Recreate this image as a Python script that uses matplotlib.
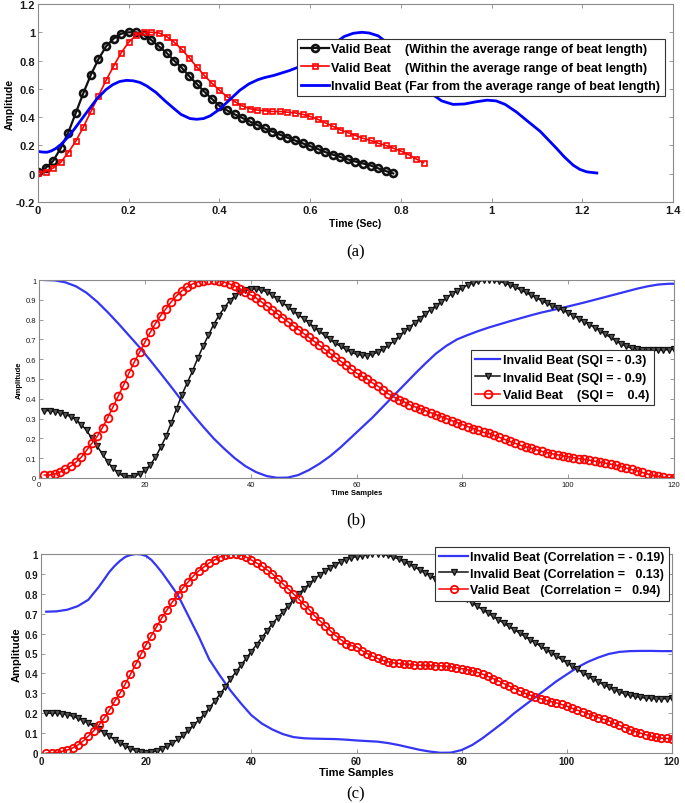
import numpy as np
import matplotlib
matplotlib.use('Agg')
import matplotlib.pyplot as plt

plt.rcParams['font.family'] = ['Liberation Sans', 'DejaVu Sans']

# ---------------- Panel (a) data ----------------
a_rate = 60.0  # samples per second
a_valid1 = [0.01, 0.04, 0.09, 0.18, 0.29, 0.43, 0.57, 0.70, 0.81, 0.90,
            0.955, 0.99, 1.0, 1.0, 0.98, 0.945, 0.90, 0.855, 0.80, 0.75,
            0.69, 0.635, 0.58, 0.53, 0.48, 0.448, 0.42, 0.395, 0.37, 0.345,
            0.32, 0.298, 0.276, 0.255, 0.235, 0.215, 0.195, 0.175, 0.153, 0.135,
            0.118, 0.101, 0.086, 0.072, 0.058, 0.038, 0.019, 0.002]
a_valid2 = [0.005, 0.015, 0.04, 0.08, 0.15, 0.23, 0.33, 0.44, 0.55, 0.66,
            0.76, 0.855, 0.93, 0.98, 1.0, 1.0, 0.995, 0.97, 0.93, 0.88,
            0.82, 0.755, 0.695, 0.64, 0.59, 0.545, 0.51, 0.48, 0.46, 0.45,
            0.445, 0.44, 0.44, 0.435, 0.43, 0.42, 0.405, 0.385, 0.36, 0.335,
            0.31, 0.29, 0.27, 0.25, 0.235, 0.215, 0.20, 0.18, 0.16, 0.135,
            0.105, 0.078]
a_invalid_t = [0.0, 0.01, 0.02, 0.03, 0.04, 0.05, 0.065, 0.08, 0.095, 0.11,
               0.13, 0.15, 0.165, 0.18, 0.195, 0.21, 0.225, 0.24, 0.26, 0.28,
               0.30, 0.315, 0.335, 0.35, 0.365, 0.38, 0.40, 0.425, 0.445, 0.465,
               0.485, 0.50, 0.52, 0.535, 0.555, 0.575, 0.595, 0.615, 0.635, 0.655,
               0.675, 0.695, 0.714, 0.73, 0.75, 0.77, 0.79, 0.81, 0.83, 0.85,
               0.87, 0.89, 0.915, 0.94, 0.965, 0.99, 1.01, 1.03, 1.055, 1.08,
               1.107, 1.125, 1.143, 1.16, 1.18, 1.195, 1.21, 1.232]
a_invalid = [0.158, 0.153, 0.152, 0.162, 0.18, 0.205, 0.255, 0.315, 0.38, 0.445,
             0.53, 0.595, 0.63, 0.652, 0.66, 0.657, 0.645, 0.62, 0.575, 0.515,
             0.46, 0.42, 0.39, 0.385, 0.39, 0.41, 0.455, 0.53, 0.59, 0.635,
             0.665, 0.68, 0.695, 0.71, 0.73, 0.755, 0.785, 0.82, 0.87, 0.925,
             0.97, 0.993, 1.0, 0.995, 0.975, 0.925, 0.86, 0.79, 0.71, 0.63,
             0.56, 0.515, 0.49, 0.493, 0.508, 0.52, 0.515, 0.49, 0.436, 0.37,
             0.30, 0.24, 0.18, 0.12, 0.06, 0.03, 0.013, 0.005]
a_labels = ['Valid Beat    (Within the average range of beat length)',
            'Valid Beat    (Within the average range of beat length)',
            'Invalid Beat (Far from the average range of beat length)']
a_xticks = [0, 0.2, 0.4, 0.6, 0.8, 1.0, 1.2, 1.4]
a_xticklabels = ['0', '0.2', '0.4', '0.6', '0.8', '1', '1.2', '1.4']
a_yticks = [-0.2, 0, 0.2, 0.4, 0.6, 0.8, 1.0, 1.2]
a_yticklabels = ['-0.2', '0', '0.2', '0.4', '0.6', '0.8', '1', '1.2']

# ---------------- Panel (b) data ----------------
b_valid = [0.015, 0.015, 0.02, 0.03, 0.045, 0.06, 0.08, 0.105, 0.14, 0.175,
           0.21, 0.255, 0.305, 0.36, 0.415, 0.47, 0.53, 0.585, 0.635, 0.685,
           0.735, 0.78, 0.82, 0.855, 0.89, 0.92, 0.945, 0.965, 0.98, 0.99,
           0.997, 1.0, 1.0, 0.997, 0.99, 0.98, 0.97, 0.955, 0.94, 0.925,
           0.91, 0.89, 0.87, 0.85, 0.83, 0.81, 0.79, 0.77, 0.75, 0.73,
           0.71, 0.69, 0.67, 0.65, 0.63, 0.61, 0.59, 0.57, 0.55, 0.53,
           0.515, 0.50, 0.48, 0.465, 0.445, 0.425, 0.41, 0.395, 0.385, 0.37,
           0.36, 0.35, 0.34, 0.33, 0.32, 0.31, 0.30, 0.29, 0.28, 0.27,
           0.26, 0.25, 0.24, 0.23, 0.225, 0.215, 0.205, 0.195, 0.185, 0.175,
           0.165, 0.157, 0.15, 0.142, 0.135, 0.128, 0.122, 0.117, 0.112, 0.107,
           0.102, 0.098, 0.094, 0.09, 0.085, 0.08, 0.075, 0.07, 0.065, 0.058,
           0.05, 0.043, 0.036, 0.028, 0.02, 0.013, 0.008, 0.004, 0.002, 0.0]
b_invalid2 = [0.34, 0.34, 0.335, 0.33, 0.32, 0.31, 0.295, 0.27, 0.24, 0.20,
              0.16, 0.12, 0.08, 0.05, 0.025, 0.008, 0.0, 0.008, 0.02, 0.04,
              0.065, 0.105, 0.155, 0.21, 0.28, 0.35, 0.42, 0.48, 0.54, 0.605,
              0.665, 0.72, 0.775, 0.82, 0.86, 0.895, 0.92, 0.94, 0.95, 0.955,
              0.955, 0.95, 0.94, 0.925, 0.905, 0.885, 0.865, 0.845, 0.825, 0.805,
              0.785, 0.76, 0.74, 0.72, 0.70, 0.68, 0.665, 0.65, 0.635, 0.625,
              0.62, 0.618, 0.625, 0.635, 0.65, 0.67, 0.69, 0.715, 0.74, 0.76,
              0.785, 0.805, 0.83, 0.85, 0.87, 0.89, 0.91, 0.93, 0.945, 0.96,
              0.975, 0.985, 0.993, 0.998, 1.0, 0.998, 0.993, 0.985, 0.975, 0.963,
              0.95, 0.937, 0.923, 0.91, 0.895, 0.882, 0.87, 0.858, 0.847, 0.835,
              0.82, 0.805, 0.79, 0.775, 0.76, 0.743, 0.726, 0.71, 0.693, 0.677,
              0.665, 0.655, 0.65, 0.647, 0.645, 0.645, 0.645, 0.647, 0.648, 0.65]
b_invalid1_n = [1, 3, 5, 7, 9, 11, 13, 15, 17, 19, 21, 23, 25, 27, 29, 31, 33,
                35, 37, 39, 41, 43, 45, 47, 49, 51, 53, 55, 57, 59, 61, 63, 65,
                67, 69, 71, 73, 75, 77, 79, 81, 83, 85, 87, 89, 91, 93, 95, 97,
                99, 101, 103, 105, 107, 109, 111, 113, 115, 117, 119, 120]
b_invalid1 = [1.0, 0.998, 0.988, 0.968, 0.935, 0.89, 0.837, 0.78, 0.72, 0.66,
              0.595, 0.528, 0.46, 0.39, 0.323, 0.26, 0.20, 0.148, 0.10, 0.06,
              0.03, 0.01, 0.001, 0.002, 0.015, 0.04, 0.072, 0.11, 0.155, 0.205,
              0.255, 0.305, 0.36, 0.415, 0.47, 0.525, 0.578, 0.628, 0.668, 0.70,
              0.722, 0.742, 0.76, 0.776, 0.792, 0.807, 0.822, 0.836, 0.848, 0.86,
              0.873, 0.886, 0.90, 0.914, 0.928, 0.942, 0.956, 0.968, 0.977, 0.981,
              0.981]
b_labels = ['Invalid Beat (SQI = - 0.3)', 'Invalid Beat (SQI = - 0.9)',
            'Valid Beat    (SQI =    0.4)']

# ---------------- Panel (c) data ----------------
c_valid = [0.0, 0.0, 0.002, 0.008, 0.015, 0.025, 0.04, 0.06, 0.085, 0.11,
           0.14, 0.175, 0.215, 0.26, 0.30, 0.345, 0.395, 0.445, 0.495, 0.545,
           0.59, 0.635, 0.68, 0.72, 0.76, 0.795, 0.83, 0.86, 0.89, 0.915,
           0.935, 0.955, 0.97, 0.985, 0.995, 1.0, 1.0, 0.995, 0.985, 0.97,
           0.955, 0.94, 0.92, 0.90, 0.875, 0.85, 0.825, 0.80, 0.775, 0.745,
           0.72, 0.69, 0.665, 0.64, 0.615, 0.59, 0.57, 0.55, 0.54, 0.534,
           0.515, 0.50, 0.487, 0.475, 0.465, 0.458, 0.453, 0.45, 0.447, 0.445,
           0.443, 0.441, 0.44, 0.44, 0.439, 0.438, 0.436, 0.433, 0.429, 0.424,
           0.419, 0.413, 0.405, 0.396, 0.385, 0.374, 0.362, 0.349, 0.337, 0.324,
           0.312, 0.30, 0.291, 0.282, 0.273, 0.265, 0.258, 0.252, 0.244, 0.235,
           0.225, 0.215, 0.207, 0.198, 0.188, 0.178, 0.17, 0.161, 0.15, 0.139,
           0.128, 0.117, 0.108, 0.10, 0.092, 0.084, 0.079, 0.074, 0.073, 0.072]
c_invalid2 = [0.20, 0.20, 0.20, 0.197, 0.193, 0.185, 0.175, 0.163, 0.15, 0.135,
              0.12, 0.103, 0.085, 0.067, 0.05, 0.035, 0.022, 0.012, 0.005, 0.002,
              0.003, 0.01, 0.02, 0.033, 0.05, 0.068, 0.09, 0.115, 0.14, 0.165,
              0.195, 0.225, 0.26, 0.295, 0.33, 0.37, 0.405, 0.44, 0.475, 0.51,
              0.545, 0.58, 0.615, 0.65, 0.68, 0.71, 0.74, 0.77, 0.80, 0.825,
              0.85, 0.875, 0.895, 0.915, 0.93, 0.945, 0.96, 0.972, 0.98, 0.987,
              0.992, 0.996, 0.999, 1.0, 0.998, 0.993, 0.985, 0.975, 0.962, 0.948,
              0.935, 0.92, 0.905, 0.89, 0.875, 0.86, 0.843, 0.825, 0.808, 0.79,
              0.772, 0.755, 0.737, 0.72, 0.703, 0.686, 0.67, 0.653, 0.636, 0.62,
              0.603, 0.586, 0.57, 0.553, 0.537, 0.52, 0.503, 0.487, 0.47, 0.454,
              0.437, 0.42, 0.404, 0.388, 0.372, 0.357, 0.343, 0.33, 0.318, 0.307,
              0.297, 0.29, 0.284, 0.279, 0.276, 0.274, 0.273, 0.273, 0.273, 0.274]
c_invalid1_n = [1, 3, 5, 7, 9, 11, 12, 13, 14, 15, 16, 17, 18, 19, 20, 21, 22,
                23, 24, 26, 28, 30, 32, 34, 36, 38, 40, 42, 44, 46, 48, 50, 52,
                54, 56, 58, 60, 62, 64, 66, 68, 70, 72, 74, 76, 78, 80, 82, 84,
                86, 88, 90, 92, 94, 96, 98, 100, 102, 104, 106, 108, 110, 112,
                114, 116, 118, 120]
c_invalid1 = [0.71, 0.712, 0.72, 0.738, 0.77, 0.835, 0.872, 0.91, 0.94, 0.965,
              0.985, 0.995, 1.0, 0.998, 0.99, 0.97, 0.94, 0.907, 0.87, 0.795,
              0.69, 0.585, 0.47, 0.39, 0.315, 0.25, 0.19, 0.148, 0.118, 0.095,
              0.08, 0.074, 0.072, 0.071, 0.07, 0.067, 0.063, 0.06, 0.057, 0.05,
              0.04, 0.028, 0.016, 0.007, 0.001, 0.002, 0.015, 0.04, 0.075, 0.115,
              0.155, 0.20, 0.24, 0.28, 0.32, 0.36, 0.395, 0.43, 0.458, 0.48,
              0.498, 0.508, 0.512, 0.513, 0.513, 0.512, 0.512]
c_labels = ['Invalid Beat (Correlation = - 0.19)',
            'Invalid Beat (Correlation =   0.13)',
            'Valid Beat   (Correlation =   0.94)']

bc_xticks = [0, 20, 40, 60, 80, 100, 120]
bc_yticks = [0, 0.1, 0.2, 0.3, 0.4, 0.5, 0.6, 0.7, 0.8, 0.9, 1.0]
bc_yticklabels = ['0', '0.1', '0.2', '0.3', '0.4', '0.5', '0.6', '0.7', '0.8', '0.9', '1']

W, H = 685, 804
fig = plt.figure(figsize=(W / 100, H / 100), dpi=100)


def px_axes(l, t, r, b):
    return fig.add_axes([l / W, 1 - b / H, (r - l) / W, (b - t) / H])


def style(ax, fs, bold):
    for s in ax.spines.values():
        s.set_color('#8a8a8a')
        s.set_linewidth(0.8)
    ax.tick_params(direction='in', top=True, right=True, length=3, width=0.6,
                   color='#8a8a8a', labelsize=fs, pad=2, labelcolor='#1a1a1a')
    for lab in ax.get_xticklabels() + ax.get_yticklabels():
        lab.set_fontweight('bold' if bold else 'normal')


def legend(ax, handles, labels, x, y, fs, hl, ls):
    lg = ax.legend(handles, labels, loc='upper left', bbox_to_anchor=(x / W, 1 - y / H),
                   bbox_transform=fig.transFigure, borderaxespad=0, fancybox=False,
                   framealpha=1, edgecolor='#333333', prop={'weight': 'bold', 'size': fs},
                   handlelength=hl, handletextpad=0.2, labelspacing=ls, borderpad=0.35)
    lg.get_frame().set_linewidth(0.8)
    return lg


# ---------------- (a) ----------------
ax = px_axes(38, 5, 673, 203)
t1 = np.arange(len(a_valid1)) / a_rate
t2 = np.arange(len(a_valid2)) / a_rate
h1, = ax.plot(t1, a_valid1, '-o', color='#111111', lw=1.6, ms=5.0, mfc='none', mew=1.9)
h2, = ax.plot(t2, a_valid2, '-s', color='#ff0000', lw=1.2, ms=3.6, mfc='none', mew=1.2)
h3, = ax.plot(a_invalid_t, a_invalid, '-', color='#0000ff', lw=2.0)
ax.set_xlim(0, 1.4)
ax.set_ylim(-0.2, 1.2)
ax.set_xticks(a_xticks, a_xticklabels)
ax.set_yticks(a_yticks, a_yticklabels)
style(ax, 8, True)
ax.set_xlabel('Time (Sec)', fontsize=7.5, fontweight='bold', labelpad=2)
ax.set_ylabel('Amplitude', fontsize=7.5, fontweight='bold', labelpad=1)
legend(ax, [h1, h2, h3], a_labels, 297, 40, 9, 2.2, 0.5)
fig.text(356 / W, 1 - 252 / H, '(a)', ha='center', va='center', fontsize=12,
         family='Liberation Serif')

# ---------------- (b) ----------------
ax = px_axes(39, 281, 674, 479)
n = np.arange(1, len(b_valid) + 1)
hb1, = ax.plot(b_invalid1_n, b_invalid1, '-', color='#3535f5', lw=1.6)
hb2, = ax.plot(n, b_invalid2, '-v', color='#111111', lw=1.1, ms=4.2, mfc='#555555', mew=0.9)
hb3, = ax.plot(n, b_valid, '-o', color='#ff0000', lw=1.1, ms=5.6, mfc='none', mew=1.3)
ax.set_xlim(0, 120)
ax.set_ylim(0, 1)
ax.set_xticks(bc_xticks)
ax.set_yticks(bc_yticks, bc_yticklabels)
style(ax, 5.5, False)
ax.set_xlabel('Time Samples', fontsize=5.5, fontweight='bold', labelpad=1)
ax.set_ylabel('Amplitude', fontsize=5.5, fontweight='bold', labelpad=2)
legend(ax, [hb1, hb2, hb3], b_labels, 471, 351, 9, 2.0, 0.42)
fig.text(356 / W, 1 - 520 / H, '(b)', ha='center', va='center', fontsize=12,
         family='Liberation Serif')

# ---------------- (c) ----------------
ax = px_axes(41, 555, 672, 754)
n = np.arange(1, len(c_valid) + 1)
hc1, = ax.plot(c_invalid1_n, c_invalid1, '-', color='#3535f5', lw=1.6)
hc2, = ax.plot(n, c_invalid2, '-v', color='#111111', lw=1.1, ms=4.4, mfc='#555555', mew=0.9)
hc3, = ax.plot(n, c_valid, '-o', color='#ff0000', lw=1.1, ms=5.3, mfc='none', mew=1.3)
ax.set_xlim(0, 120)
ax.set_ylim(0, 1)
ax.set_xticks(bc_xticks)
ax.set_yticks(bc_yticks, bc_yticklabels)
style(ax, 7, True)
ax.set_xlabel('Time Samples', fontsize=8, fontweight='bold', labelpad=1)
ax.set_ylabel('Amplitude', fontsize=8, fontweight='bold', labelpad=2)
legend(ax, [hc1, hc2, hc3], c_labels, 435, 548, 8.9, 2.3, 0.36)
fig.text(356 / W, 1 - 794 / H, '(c)', ha='center', va='center', fontsize=12,
         family='Liberation Serif')

fig.savefig('out.png', dpi=100)
